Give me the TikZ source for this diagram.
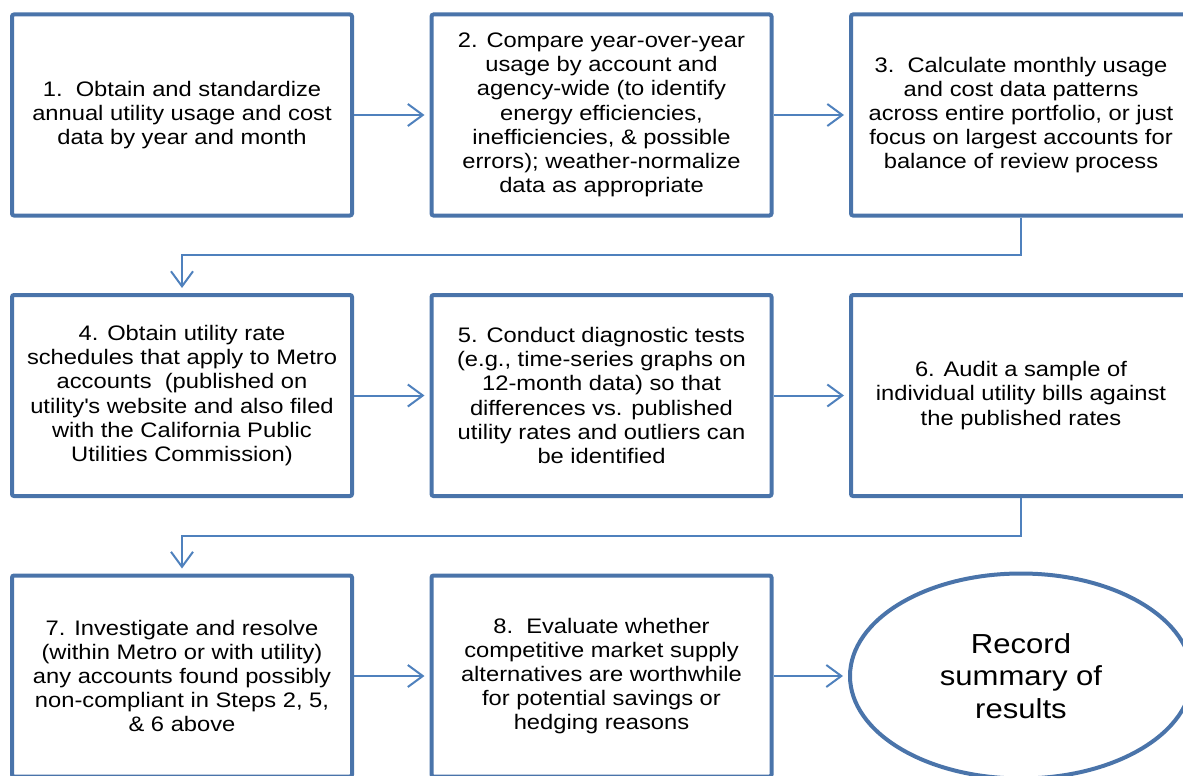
\documentclass[tikz,border=0pt]{standalone}
\usepackage{fontspec}
\setmainfont{Liberation Sans}[FakeStretch=1.13]
\usepackage{tikz}
\usetikzlibrary{arrows.meta, positioning, shapes.geometric}
\definecolor{boxblue}{RGB}{74,116,170}
\definecolor{linkblue}{RGB}{79,129,189}

\begin{document}
\begin{tikzpicture}[x=1pt,y=1pt,on grid,>={Straight Barb[length=15pt,width=22pt]},
        stepbox/.style={draw=boxblue,line width=4pt,fill=white,rounded corners=2pt,
          minimum width=340pt,minimum height=201pt,inner sep=0pt,align=center,
          font=\fontsize{21}{24.2}\selectfont},
        summary/.style={draw=boxblue,line width=4pt,fill=white,ellipse,
          minimum width=342pt,minimum height=205pt,inner sep=0pt,align=center,
          font=\fontsize{27.5}{32.5}\selectfont},
        link/.style={draw=linkblue,line width=2pt,->,shorten >=5pt}]

      \useasboundingbox (0,0) rectangle (1183,-776);

      % row 1
      \node[stepbox] (s1) at (182,-115) {1.\ \ Obtain and standardize\\annual utility usage and cost\\data by year and month};
      \node[stepbox] (s2) [right=419.5pt of s1] {2. Compare year-over-year\\usage by account and\\agency-wide (to identify\\energy efficiencies,\\inefficiencies, \& possible\\errors); weather-normalize\\data as appropriate};
      \node[stepbox] (s3) [right=419.5pt of s2] {3.\ \ Calculate monthly usage\\and cost data patterns\\across entire portfolio, or just\\focus on largest accounts for\\balance of review process};

      % row 2
      \node[stepbox] (s4) [below=280.5pt of s1] {4. Obtain utility rate\\schedules that apply to Metro\\accounts\ \ (published on\\utility\textquotesingle s website and also filed\\with the California Public\\Utilities Commission)};
      \node[stepbox] (s5) [right=419.5pt of s4] {5. Conduct diagnostic tests\\(e.g., time-series graphs on\\12-month data) so that\\differences vs. published\\utility rates and outliers can\\be identified};
      \node[stepbox] (s6) [right=419.5pt of s5] {6. Audit a sample of\\individual utility bills against\\the published rates};

      % row 3
      \node[stepbox] (s7) [below=280.5pt of s4] {7. Investigate and resolve\\(within Metro or with utility)\\any accounts found possibly\\non-compliant in Steps 2, 5,\\\& 6 above};
      \node[stepbox] (s8) [right=419.5pt of s7] {8.\ \ Evaluate whether\\competitive market supply\\alternatives are worthwhile\\for potential savings or\\hedging reasons};
      \node[summary] (rec) [right=419.5pt of s8] {Record\\summary of\\results};

      \path[link] (s1) -- (s2);
      \path[link] (s2) -- (s3);
      \path[link] (s3.south) -- ++(0,-37.5) -| (s4.north);
      \path[link] (s4) -- (s5);
      \path[link] (s5) -- (s6);
      \path[link] (s6.south) -- ++(0,-37.5) -| (s7.north);
      \path[link] (s7) -- (s8);
      \path[link] (s8) -- (rec);
    \end{tikzpicture}
\end{document}
